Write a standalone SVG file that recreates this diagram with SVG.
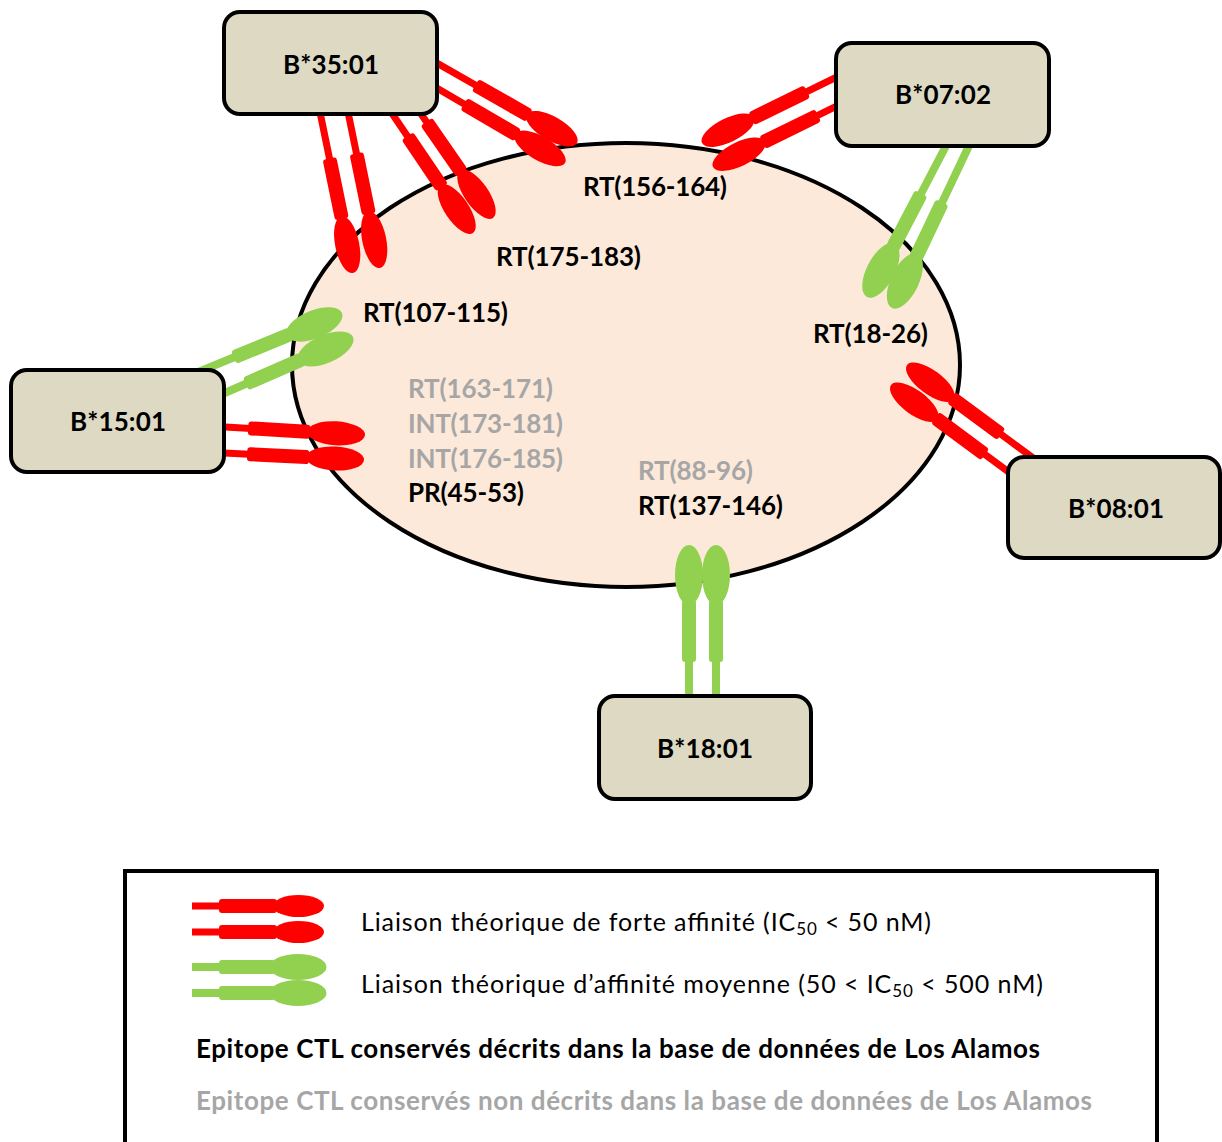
<svg xmlns="http://www.w3.org/2000/svg" xmlns:xlink="http://www.w3.org/1999/xlink" width="1222" height="1142" viewBox="0 0 1222 1142">
<style>
.box{fill:#DDD9C3;stroke:#000;stroke-width:4}
.lbl{font-family:Lato,"Liberation Sans",sans-serif;font-weight:bold;font-size:26px;fill:#000}
.grey{fill:#A6A6A6}
.leg{font-family:Lato,"Liberation Sans",sans-serif;font-size:25px;fill:#000}
.red{fill:#FF0000}
.green{fill:#92D050}
</style>
<defs>
<g id="rr" class="red">
<rect x="-200" y="-3.5" width="90" height="7"/>
<rect x="-117" y="-7" width="62" height="14" rx="3"/>
<ellipse cx="-29" cy="0" rx="29" ry="12"/>
</g>
<g id="gr" class="green">
<rect x="-200" y="-4" width="90" height="8"/>
<rect x="-117" y="-7" width="62" height="14" rx="3"/>
<ellipse cx="-30" cy="0" rx="30" ry="14"/>
</g>
</defs>
<rect width="1222" height="1142" fill="#fff"/>
<g id="antigen">
<ellipse cx="626" cy="365" rx="334" ry="222" fill="#FDE9D9" stroke="#000" stroke-width="4"/>
</g>
<g id="connectors">
<use xlink:href="#rr" transform="translate(353,273) rotate(78.4)"/>
<use xlink:href="#rr" transform="translate(380,268) rotate(78.4)"/>
<use xlink:href="#rr" transform="translate(473,233) rotate(55.9)"/>
<use xlink:href="#rr" transform="translate(493,218) rotate(55.3)"/>
<use xlink:href="#rr" transform="translate(577,143) rotate(29.7)"/>
<use xlink:href="#rr" transform="translate(565,163) rotate(30.3)"/>
<use xlink:href="#rr" transform="translate(702,143) rotate(153.9)"/>
<use xlink:href="#rr" transform="translate(713,167) rotate(153.8)"/>
<use xlink:href="#gr" transform="translate(867,297) rotate(117.6)"/>
<use xlink:href="#gr" transform="translate(892,308) rotate(115.4)"/>
<use xlink:href="#gr" transform="translate(342,313) rotate(-22.3)"/>
<use xlink:href="#gr" transform="translate(353,337) rotate(-23.6)"/>
<use xlink:href="#rr" transform="translate(365,435) rotate(3.3)"/>
<use xlink:href="#rr" transform="translate(364,460) rotate(2.9)"/>
<use xlink:href="#rr" transform="translate(907,365) rotate(-143.6)"/>
<use xlink:href="#rr" transform="translate(891,385) rotate(-143.5)"/>
<use xlink:href="#gr" transform="translate(689,545) rotate(-90)"/>
<use xlink:href="#gr" transform="translate(716,545) rotate(-90)"/>
</g>
<g id="B3501">
<rect class="box" x="224" y="12" width="213" height="102" rx="16"/>
<text class="lbl" x="331" y="74" text-anchor="middle" textLength="96">B*35:01</text>
</g>
<g id="B0702">
<rect class="box" x="836" y="43" width="213" height="103" rx="16"/>
<text class="lbl" x="943" y="104" text-anchor="middle" textLength="96">B*07:02</text>
</g>
<g id="B1501">
<rect class="box" x="11" y="370" width="213" height="102" rx="16"/>
<text class="lbl" x="118" y="431" text-anchor="middle" textLength="96">B*15:01</text>
</g>
<g id="B0801">
<rect class="box" x="1008" y="457" width="212" height="101" rx="16"/>
<text class="lbl" x="1116" y="518" text-anchor="middle" textLength="96">B*08:01</text>
</g>
<g id="B1801">
<rect class="box" x="599" y="696" width="212" height="103" rx="16"/>
<text class="lbl" x="705" y="758" text-anchor="middle" textLength="96">B*18:01</text>
</g>
<g id="epitopes">
<text class="lbl" x="583" y="196" textLength="144">RT(156-164)</text>
<text class="lbl" x="496" y="266" textLength="145">RT(175-183)</text>
<text class="lbl" x="363" y="322" textLength="145">RT(107-115)</text>
<text class="lbl" x="813" y="343" textLength="115">RT(18-26)</text>
<text class="lbl grey" x="408" y="398" textLength="145">RT(163-171)</text>
<text class="lbl grey" x="408" y="433" textLength="155">INT(173-181)</text>
<text class="lbl grey" x="408" y="468" textLength="155">INT(176-185)</text>
<text class="lbl" x="408" y="502" textLength="116">PR(45-53)</text>
<text class="lbl grey" x="638" y="480" textLength="115">RT(88-96)</text>
<text class="lbl" x="638" y="515" textLength="145">RT(137-146)</text>
</g>
<g id="legend">
<rect x="125" y="871" width="1032" height="290" fill="none" stroke="#000" stroke-width="4"/>
<g class="red">
<rect x="192" y="902.5" width="30" height="7"/>
<rect x="219" y="899" width="58" height="14" rx="3"/>
<ellipse cx="298.5" cy="906" rx="25.5" ry="11"/>
<rect x="192" y="928.5" width="30" height="7"/>
<rect x="219" y="925" width="58" height="14" rx="3"/>
<ellipse cx="298.5" cy="932" rx="25.5" ry="11"/>
</g>
<g class="green">
<rect x="192" y="963" width="30" height="8"/>
<rect x="219" y="960" width="56" height="14" rx="3"/>
<ellipse cx="298" cy="967" rx="28.5" ry="13"/>
<rect x="192" y="989" width="30" height="8"/>
<rect x="219" y="986" width="56" height="14" rx="3"/>
<ellipse cx="298" cy="993" rx="28.5" ry="13"/>
</g>
<text class="leg" x="361" y="931" textLength="570">Liaison théorique de forte affinité (IC<tspan font-size="17" dy="4">50</tspan><tspan dy="-4"> &lt; 50 nM)</tspan></text>
<text class="leg" x="361" y="993" textLength="682">Liaison théorique d’affinité moyenne (50 &lt; IC<tspan font-size="17" dy="4">50</tspan><tspan dy="-4"> &lt; 500 nM)</tspan></text>
<text class="lbl" x="196" y="1058" textLength="844">Epitope CTL conservés décrits dans la base de données de Los Alamos</text>
<text class="lbl grey" x="196" y="1110" textLength="896">Epitope CTL conservés non décrits dans la base de données de Los Alamos</text>
</g>
</svg>
